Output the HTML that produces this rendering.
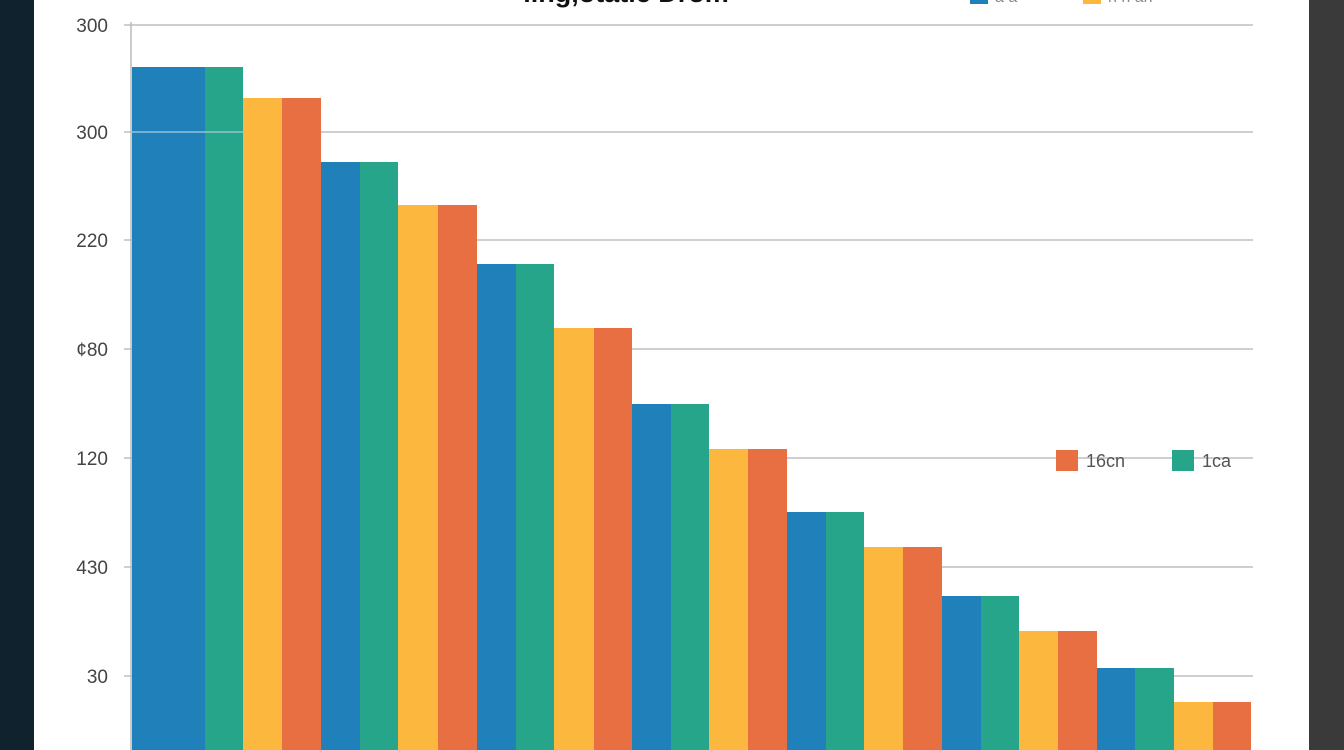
<!DOCTYPE html>
<html><head><style>
html,body{margin:0;padding:0;width:1344px;height:750px;overflow:hidden;background:#fff}
</style></head><body>
<svg width="1344" height="750" xmlns="http://www.w3.org/2000/svg" style="display:block">
<rect x="0" y="0" width="1344" height="750" fill="#fff"/>
<rect x="0" y="0" width="34" height="750" fill="#10222e"/>
<rect x="1309" y="0" width="35" height="750" fill="#3a3a3a"/>
<g stroke="#cfcfcf" stroke-width="2">
<line x1="124" y1="25" x2="1253" y2="25"/>
<line x1="124" y1="132" x2="1253" y2="132"/>
<line x1="124" y1="240" x2="1253" y2="240"/>
<line x1="124" y1="349" x2="1253" y2="349"/>
<line x1="124" y1="458" x2="1253" y2="458"/>
<line x1="124" y1="567" x2="1253" y2="567"/>
<line x1="124" y1="676" x2="1253" y2="676"/>
</g>
<line x1="131" y1="22" x2="131" y2="750" stroke="#bbb" stroke-width="1.5"/>
<g font-family="Liberation Sans, sans-serif" font-size="19" fill="#444" text-anchor="end">
<text x="108" y="32">300</text>
<text x="108" y="139">300</text>
<text x="108" y="247">220</text>
<text x="108" y="356">¢80</text>
<text x="108" y="465">120</text>
<text x="108" y="574">430</text>
<text x="108" y="683">30</text>
</g>
<text x="626" y="2" font-family="Liberation Sans, sans-serif" font-weight="bold" font-size="27" fill="#111" text-anchor="middle">ling,otatic Drom</text>
<rect x="970" y="-8" width="18" height="12" fill="#1f80ba"/>
<text x="995" y="2" font-family="Liberation Sans, sans-serif" font-size="16" fill="#888">a a</text>
<rect x="1083" y="-8" width="18" height="12" fill="#fbb73e"/>
<text x="1108" y="2" font-family="Liberation Sans, sans-serif" font-size="16" fill="#888">n n  an</text>
<g>
<rect x="132" y="67" width="73" height="683" fill="#1f80ba"/>
<rect x="205" y="67" width="38" height="683" fill="#27a58a"/>
<rect x="243" y="98" width="39" height="652" fill="#fbb73e"/>
<rect x="282" y="98" width="39" height="652" fill="#e86f42"/>
<rect x="321" y="162" width="39" height="588" fill="#1f80ba"/>
<rect x="360" y="162" width="38" height="588" fill="#27a58a"/>
<rect x="398" y="205" width="40" height="545" fill="#fbb73e"/>
<rect x="438" y="205" width="39" height="545" fill="#e86f42"/>
<rect x="477" y="264" width="39" height="486" fill="#1f80ba"/>
<rect x="516" y="264" width="38" height="486" fill="#27a58a"/>
<rect x="554" y="328" width="40" height="422" fill="#fbb73e"/>
<rect x="594" y="328" width="38" height="422" fill="#e86f42"/>
<rect x="632" y="404" width="39" height="346" fill="#1f80ba"/>
<rect x="671" y="404" width="38" height="346" fill="#27a58a"/>
<rect x="709" y="449" width="39" height="301" fill="#fbb73e"/>
<rect x="748" y="449" width="39" height="301" fill="#e86f42"/>
<rect x="787" y="512" width="39" height="238" fill="#1f80ba"/>
<rect x="826" y="512" width="38" height="238" fill="#27a58a"/>
<rect x="864" y="547" width="39" height="203" fill="#fbb73e"/>
<rect x="903" y="547" width="39" height="203" fill="#e86f42"/>
<rect x="942" y="596" width="39" height="154" fill="#1f80ba"/>
<rect x="981" y="596" width="38" height="154" fill="#27a58a"/>
<rect x="1019" y="631" width="39" height="119" fill="#fbb73e"/>
<rect x="1058" y="631" width="39" height="119" fill="#e86f42"/>
<rect x="1097" y="668" width="38" height="82" fill="#1f80ba"/>
<rect x="1135" y="668" width="39" height="82" fill="#27a58a"/>
<rect x="1174" y="702" width="39" height="48" fill="#fbb73e"/>
<rect x="1213" y="702" width="38" height="48" fill="#e86f42"/>
</g>
<line x1="132" y1="132" x2="243" y2="132" stroke="#9cc6d8" stroke-width="2" opacity="0.7"/>
<rect x="1056" y="450" width="22" height="21" fill="#e86f42"/>
<text x="1086" y="467" font-family="Liberation Sans, sans-serif" font-size="18" fill="#555">16cn</text>
<rect x="1172" y="450" width="22" height="21" fill="#27a58a"/>
<text x="1202" y="467" font-family="Liberation Sans, sans-serif" font-size="18" fill="#555">1ca</text>
</svg>
</body></html>
